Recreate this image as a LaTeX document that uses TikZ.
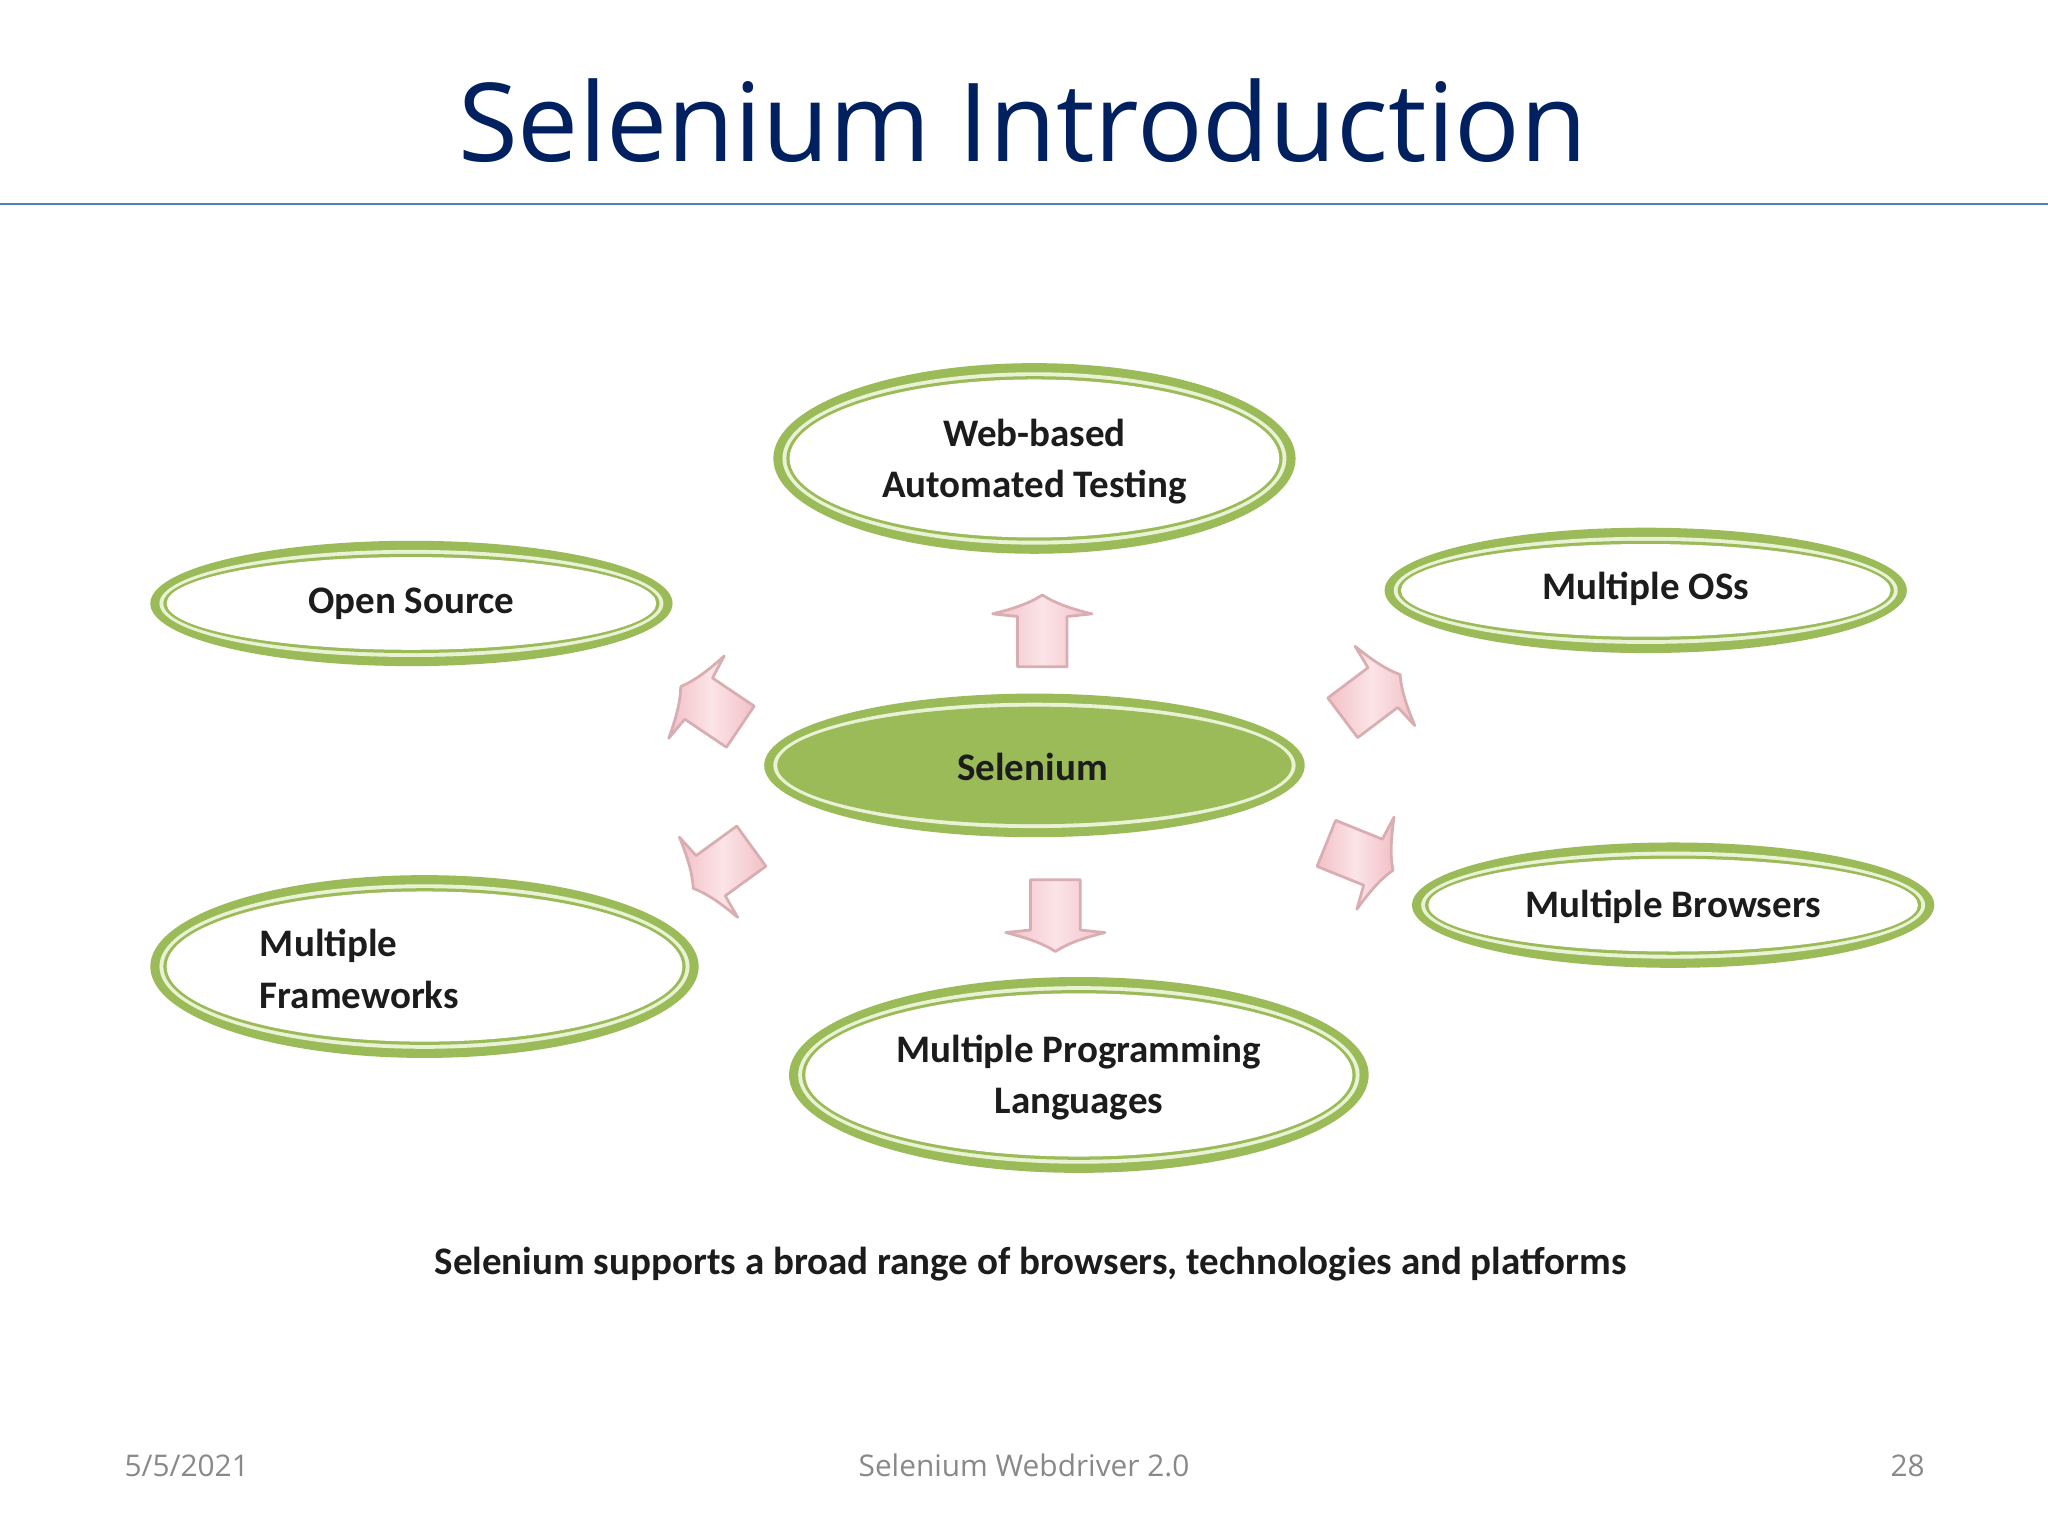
\documentclass[tikz,border=0pt]{standalone}
\usepackage{fontspec}
\setmainfont{Open Sans}
\newfontfamily\lblfont{Carlito}
\usetikzlibrary{shapes.geometric}
\definecolor{navy}{HTML}{002060}
\definecolor{rulec}{HTML}{4F81BD}
\definecolor{ringg}{HTML}{9BBB59}
\definecolor{paleg}{HTML}{EAF2D6}
\definecolor{footg}{HTML}{898989}
\definecolor{inkc}{HTML}{1C1C1C}
\definecolor{pinkl}{HTML}{F2C0C7}
\definecolor{pinkm}{HTML}{FBE4E7}
\definecolor{pinkd}{HTML}{D9AEB2}
\tikzset{
  x=0.02cm, y=-0.02cm,
  lbl/.style={font=\lblfont\bfseries\fontsize{17}{22.5}\selectfont, text=inkc, align=center},
  ringo/.style={ellipse, inner sep=0pt, fill=ringg},
  ringp/.style={ellipse, inner sep=0pt, fill=paleg},
  ringi/.style={ellipse, inner sep=0pt, fill=ringg},
  ringc/.style={ellipse, inner sep=0pt, fill=white},
  foot/.style={text=footg, font=\fontsize{13}{15}\selectfont, inner sep=0pt},
  blockarrow/.pic={
    \draw[draw=pinkd, line width=1.2pt, line join=round,
          left color=pinkl, right color=pinkl, middle color=pinkm]
      (0,-27.5) .. controls (-10,-21) and (-22,-17) .. (-38,-13)
      -- (-19,-11) -- (-19,27.5) -- (19,27.5) -- (19,-11) -- (38,-13)
      .. controls (22,-17) and (10,-21) .. (0,-27.5) -- cycle;
  }
}
% #1 name, #2 cx, #3 cy, #4 rx, #5 ry, #6 centre colour, #7 label options, #8 text
\newcommand{\ringnode}[8]{
  \node[ringo, minimum width={(#4)*0.04cm}, minimum height={(#5)*0.04cm}] (#1o) at (#2,#3) {};
  \node[ringp, minimum width={(#4-7)*0.04cm}, minimum height={(#5-7)*0.04cm}] (#1p) at (#1o.center) {};
  \node[ringi, minimum width={(#4-10)*0.04cm}, minimum height={(#5-10)*0.04cm}] (#1i) at (#1o.center) {};
  \node[ringc, fill=#6, minimum width={(#4-12.5)*0.04cm}, minimum height={(#5-12.5)*0.04cm}] (#1f) at (#1o.center) {};
  \node[lbl, #7] (#1) at (#1o.center) {#8};
}
\begin{document}
\begin{tikzpicture}
\useasboundingbox[fill=white] (0,0) rectangle (1568,1176);
\node[text=navy, font=\fontsize{47.5}{54}\selectfont] (title) at (783,92) {Selenium Introduction};
\coordinate (rl) at (0,156);
\coordinate (rr) at (1568,156);
\draw[rulec, line width=0.8pt] (rl) -- (rr);

\ringnode{web}{792}{351}{200}{73}{white}{yshift=-0.05cm}{Web-based\\Automated Testing}
\ringnode{open}{315}{462}{200}{48}{white}{}{Open Source}
\ringnode{oss}{1260}{452}{200}{48}{white}{yshift=0.02cm}{Multiple OSs}
\ringnode{sel}{792}{586}{207}{55}{ringg}{yshift=-0.02cm, xshift=-0.03cm}{Selenium}
\ringnode{brow}{1281}{693}{200}{48}{white}{yshift=-0.02cm}{Multiple Browsers}
\ringnode{fram}{325}{740}{210}{70}{white}{text width=5.04cm, align=left, inner sep=0pt, yshift=-0.04cm}{Multiple\\Frameworks}
\ringnode{lang}{826}{823}{222}{75}{white}{yshift=-0.04cm}{Multiple Programming\\Languages}

\pic at (798,483) {blockarrow};
\pic[rotate=180] at (808,701) {blockarrow};
\pic[rotate=56] at (544,541) {blockarrow};
\pic[rotate=-53] at (1050,533) {blockarrow};
\pic[rotate=-112] at (1041,656) {blockarrow};
\pic[rotate=126] at (553,664) {blockarrow};

\node[lbl] (cap) at (789,968) {Selenium supports a broad range of browsers, technologies and platforms};
\node[foot, anchor=west] (fd) at (95,1122) {5/5/2021};
\node[foot] (ft) at (784,1122) {Selenium Webdriver 2.0};
\node[foot, anchor=east] (fn) at (1474,1122) {28};
\end{tikzpicture}
\end{document}
